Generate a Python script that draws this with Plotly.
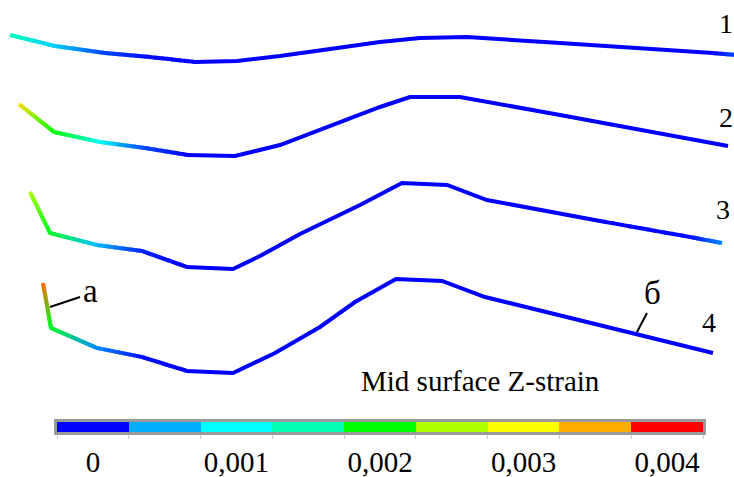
import numpy as np
import plotly.graph_objects as go

# ---------------- data ----------------
# colour legend (strain bins)
BIN_CENTERS = [0, 0.0005, 0.001, 0.0015, 0.002, 0.0025, 0.003, 0.0035, 0.004]
BIN_COLORS = ["#0000FF", "#00AEFF", "#00FFFF", "#00FFB4", "#00FF00",
              "#AEFF00", "#FFFF00", "#FFAE00", "#FF0000"]
TICK_VALS = [0, 0.001, 0.002, 0.003, 0.004]
TICK_TEXT = ["0", "0,001", "0,002", "0,003", "0,004"]

# deformed mid-surface profiles (diagram units) and strain at the nodes
LINE1_X = [10, 55, 105, 150, 195, 237, 280, 330, 380, 420, 467, 560, 650, 712, 736]
LINE1_Y = [35, 46, 53, 57, 62, 61, 56, 49, 42, 38, 37, 43, 49, 53, 55]
LINE1_S = [0.0015, 0.0007, 0.0002, 0.00003, 0, 0, 0, 0, 0, 0, 0, 0, 0, 0, 0.0002]

LINE2_X = [19, 54, 100, 145, 188, 235, 280, 330, 380, 410, 460, 560, 650, 728]
LINE2_Y = [104, 132, 142, 148, 155, 156, 145, 126, 107, 97, 97, 115, 132, 146]
LINE2_S = [0.0032, 0.002, 0.0011, 0.0002, 0, 0, 0, 0, 0, 0, 0, 0, 0, 0]

LINE3_X = [30, 50, 97, 142, 187, 233, 260, 300, 360, 402, 447, 487, 600, 690, 722]
LINE3_Y = [192, 233, 245, 251, 267, 269, 256, 234, 205, 183, 185, 200, 221, 237, 243]
LINE3_S = [0.0025, 0.0019, 0.0006, 0.0001, 0, 0, 0, 0, 0, 0, 0, 0, 0, 0.00003, 0.0004]

LINE4_X = [43, 51, 97, 142, 187, 233, 275, 320, 355, 396, 442, 485, 600, 713]
LINE4_Y = [283, 328, 348, 357, 371, 373, 353, 327, 302, 279, 281, 297, 325, 353]
LINE4_S = [0.0037, 0.0019, 0.0004, 0.00005, 0, 0, 0, 0, 0, 0, 0, 0, 0, 0]

LINES = [(LINE1_X, LINE1_Y, LINE1_S), (LINE2_X, LINE2_Y, LINE2_S),
         (LINE3_X, LINE3_Y, LINE3_S), (LINE4_X, LINE4_Y, LINE4_S)]

CURVE_LABELS = ["1", "2", "3", "4"]
CURVE_LABEL_X = [726, 726, 723, 709]
CURVE_LABEL_Y = [23, 117, 209, 322]

POINT_LABELS = ["а", "б"]
POINT_LABEL_X = [90, 652]
POINT_LABEL_Y = [291, 293]
LEADER_A_X = [50, 80]
LEADER_A_Y = [307, 297]
LEADER_B_X = [637, 647]
LEADER_B_Y = [332, 313]

TITLE = "Mid surface Z-strain"
FONT = "Liberation Serif"


# ---------------- helpers ----------------
def hex2rgb(h):
    h = h.lstrip("#")
    return np.array([int(h[i:i + 2], 16) for i in (0, 2, 4)], dtype=float)


STOP_RGB = np.array([hex2rgb(c) for c in BIN_COLORS])


def strain_rgb(v):
    return np.array([np.interp(v, BIN_CENTERS, STOP_RGB[:, k]) for k in range(3)])


def rgb_str(c):
    c = np.clip(np.round(c), 0, 255).astype(int)
    return "rgb(%d,%d,%d)" % tuple(c)


OVERLAP = 0.8
runs = {}  # colour -> list of polylines
for xs, ys, ss in LINES:
    pieces = []
    for i in range(len(xs) - 1):
        p0 = np.array([xs[i], ys[i]], float)
        p1 = np.array([xs[i + 1], ys[i + 1]], float)
        c0, c1 = strain_rgb(ss[i]), strain_rgb(ss[i + 1])
        if rgb_str(c0) == rgb_str(c1):
            pieces.append((p0, p1, rgb_str(c0)))
            continue
        n = max(2, int(np.hypot(*(p1 - p0)) / 2.5))
        for k in range(n):
            t0, t1 = k / n, (k + 1) / n
            tm = (t0 + t1) / 2
            pieces.append((p0 + (p1 - p0) * t0, p0 + (p1 - p0) * t1,
                           rgb_str(c0 + (c1 - c0) * tm)))
    line_runs = []
    cur_col, cur_pts = None, []
    for a, b, col in pieces:
        if col == cur_col:
            cur_pts.append(b)
        else:
            if cur_pts:
                line_runs.append((cur_col, cur_pts))
            cur_col, cur_pts = col, [a, b]
    line_runs.append((cur_col, cur_pts))
    # let neighbouring colour runs overlap a little so no seams show
    for j, (col, pts) in enumerate(line_runs):
        pts = [p.copy() for p in pts]
        if j > 0:
            d = pts[1] - pts[0]
            pts[0] = pts[0] - d / max(np.hypot(*d), 1e-9) * OVERLAP
        if j < len(line_runs) - 1:
            d = pts[-1] - pts[-2]
            pts[-1] = pts[-1] + d / max(np.hypot(*d), 1e-9) * OVERLAP
        runs.setdefault(col, []).append(pts)

fig = go.Figure()
for col, polys in runs.items():
    X, Y = [], []
    for poly in polys:
        X += [p[0] for p in poly] + [None]
        Y += [p[1] for p in poly] + [None]
    fig.add_trace(go.Scatter(x=X, y=Y, mode="lines",
                             line=dict(color=col, width=4),
                             hoverinfo="skip", showlegend=False))

# leader lines
for lx, ly in [(LEADER_A_X, LEADER_A_Y), (LEADER_B_X, LEADER_B_Y)]:
    fig.add_trace(go.Scatter(x=lx, y=ly, mode="lines",
                             line=dict(color="black", width=2),
                             hoverinfo="skip", showlegend=False))

# colour legend as a heatmap strip
fig.add_trace(go.Heatmap(
    x=BIN_CENTERS, y=[0], z=[BIN_CENTERS],
    zmin=BIN_CENTERS[0], zmax=BIN_CENTERS[-1],
    colorscale=[[i / (len(BIN_COLORS) - 1), c] for i, c in enumerate(BIN_COLORS)],
    showscale=False, xaxis="x2", yaxis="y2", hoverinfo="skip"))

annotations = []
for t, x, y in zip(CURVE_LABELS, CURVE_LABEL_X, CURVE_LABEL_Y):
    annotations.append(dict(x=x, y=y, text=t, showarrow=False,
                            xanchor="center", yanchor="middle",
                            font=dict(family=FONT, size=28, color="black")))
for t, x, y in zip(POINT_LABELS, POINT_LABEL_X, POINT_LABEL_Y):
    annotations.append(dict(x=x, y=y, text=t, showarrow=False,
                            xanchor="center", yanchor="middle",
                            font=dict(family=FONT, size=33, color="black")))
annotations.append(dict(x=480, y=381, text=TITLE, showarrow=False,
                        xanchor="center", yanchor="middle",
                        font=dict(family=FONT, size=29, color="black")))

W, H = 734, 477
half = (BIN_CENTERS[1] - BIN_CENTERS[0]) / 2
fig.update_layout(
    width=W, height=H, margin=dict(l=0, r=0, t=0, b=0, autoexpand=False),
    paper_bgcolor="white", plot_bgcolor="rgba(0,0,0,0)",
    xaxis=dict(range=[0, W], visible=False, domain=[0, 1], automargin=False),
    yaxis=dict(range=[H, 0], visible=False, domain=[0, 1], automargin=False),
    xaxis2=dict(domain=[57 / W, 703 / W], anchor="y2", automargin=False,
                range=[BIN_CENTERS[0] - half, BIN_CENTERS[-1] + half],
                tickmode="array", tickvals=TICK_VALS, ticktext=TICK_TEXT,
                ticks="", showgrid=False, zeroline=False,
                showline=True, mirror=True, linecolor="#9a9a9a", linewidth=3,
                ticklabelstandoff=2,
                tickfont=dict(family=FONT, size=29, color="black"),
                minor=dict(tickmode="linear", tick0=BIN_CENTERS[0] + half,
                           dtick=2 * half, ticks="outside", ticklen=4,
                           tickcolor="#cfcfcf", tickwidth=1, showgrid=False)),
    yaxis2=dict(domain=[1 - 432 / H, 1 - 422 / H], anchor="x2", automargin=False,
                showticklabels=False, ticks="", showgrid=False, zeroline=False,
                showline=True, mirror=True, linecolor="#9a9a9a", linewidth=3),
    annotations=annotations,
)

fig.write_html(
    "out.html",
    config={"displayModeBar": False},
    post_script="document.body.style.margin='0';document.body.style.overflow='hidden';",
)
